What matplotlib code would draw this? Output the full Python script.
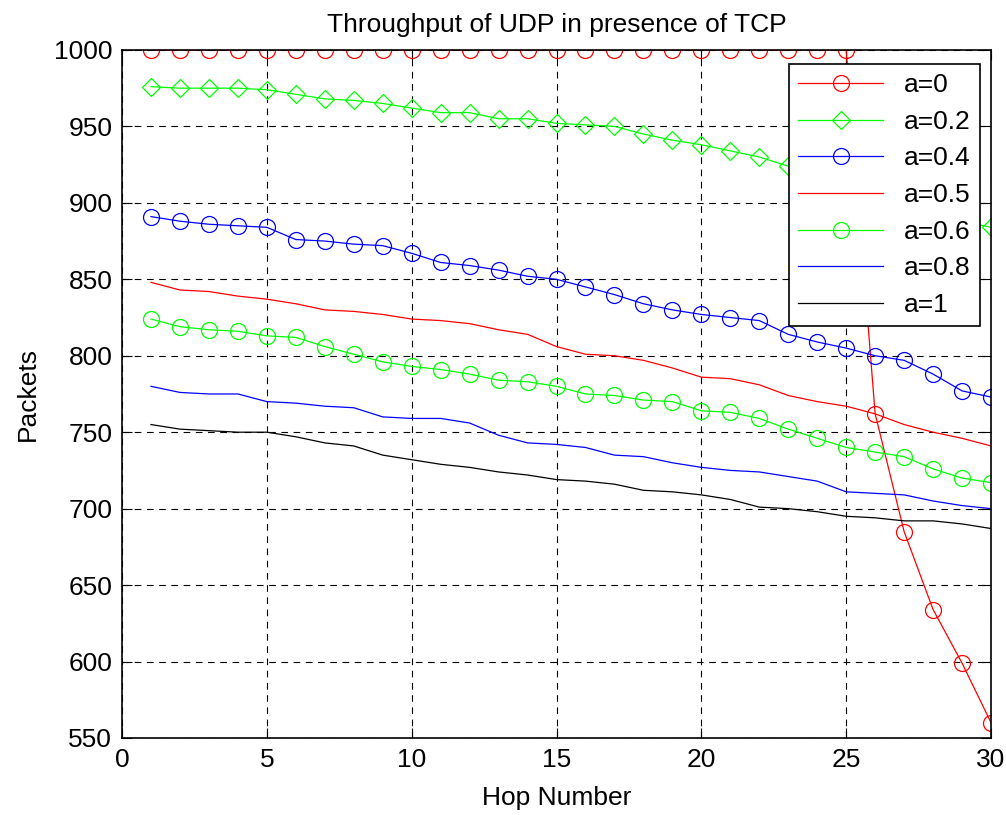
import numpy as np
import matplotlib
matplotlib.use("Agg")
import matplotlib.pyplot as plt

plt.rcParams['font.family'] = ['Liberation Sans', 'DejaVu Sans']

# Hop numbers 1..30
hops = list(range(1, 31))

# Packets received for each value of a
a_0 = [1000] * 25 + [762, 685, 634, 599, 560]
a_02 = [976, 975, 975, 975, 974, 971, 968, 967, 965, 962,
        959, 959, 955, 955, 952, 951, 950, 945, 941, 938,
        934, 930, 924, 918, 912, 905, 899, 893, 888, 884]
a_04 = [891, 888, 886, 885, 884, 876, 875, 873, 872, 867,
        861, 859, 856, 852, 850, 845, 840, 834, 830, 827,
        825, 823, 814, 809, 805, 800, 797, 788, 777, 773]
a_05 = [848, 843, 842, 839, 837, 834, 830, 829, 827, 824,
        823, 821, 817, 814, 806, 801, 800, 797, 792, 786,
        785, 781, 774, 770, 767, 762, 755, 750, 746, 741]
a_06 = [824, 819, 817, 816, 813, 812, 806, 801, 796, 793,
        791, 788, 784, 783, 780, 775, 774, 771, 770, 764,
        763, 759, 752, 746, 740, 737, 734, 726, 720, 717]
a_08 = [780, 776, 775, 775, 770, 769, 767, 766, 760, 759,
        759, 756, 748, 743, 742, 740, 735, 734, 730, 727,
        725, 724, 721, 718, 711, 710, 709, 705, 702, 700]
a_1 = [755, 752, 751, 750, 750, 747, 743, 741, 735, 732,
       729, 727, 724, 722, 719, 718, 716, 712, 711, 709,
       706, 701, 700, 698, 695, 694, 692, 692, 690, 687]

fig = plt.figure(figsize=(10.06, 8.15), dpi=100)
ax = fig.add_axes([0.1213, 0.0945, 0.8638, 0.8442])

lw = 0.9
ms = 11.5
ax.plot(hops, a_0, color='#ff0000', lw=lw, marker='o', ms=ms, mfc='none', mew=0.9, label='a=0')
ax.plot(hops, a_02, color='#00ff00', lw=lw, marker='D', ms=ms * 0.8, mfc='none', mew=0.9, label='a=0.2')
ax.plot(hops, a_04, color='#0000ff', lw=lw, marker='o', ms=ms, mfc='none', mew=0.9, label='a=0.4')
ax.plot(hops, a_05, color='#ff0000', lw=lw, label='a=0.5')
ax.plot(hops, a_06, color='#00ff00', lw=lw, marker='o', ms=ms, mfc='none', mew=0.9, label='a=0.6')
ax.plot(hops, a_08, color='#0000ff', lw=lw, label='a=0.8')
ax.plot(hops, a_1, color='#000000', lw=lw, label='a=1')

ax.set_xlim(0, 30)
ax.set_ylim(550, 1000)
ax.set_xticks(range(0, 31, 5))
ax.set_yticks(range(550, 1001, 50))
ax.grid(True, color='k', linestyle=(0, (6, 5)), lw=0.8)
ax.tick_params(direction='in', length=7, labelsize=19, top=True, right=True, pad=7)
for s in ax.spines.values():
    s.set_linewidth(1.2)

ax.set_title("Throughput of UDP in presence of TCP", fontsize=19, pad=13)
ax.set_xlabel("Hop Number", fontsize=19, labelpad=10)
ax.set_ylabel("Packets", fontsize=19, labelpad=10)

leg = ax.legend(loc='upper right', bbox_to_anchor=(0.9873, 0.9797), fontsize=19,
                fancybox=False, framealpha=1, edgecolor='k', handlelength=3.2,
                borderpad=0.35, labelspacing=0.48, borderaxespad=0)
leg.get_frame().set_linewidth(1.2)

fig.savefig("out.png", dpi=100)
